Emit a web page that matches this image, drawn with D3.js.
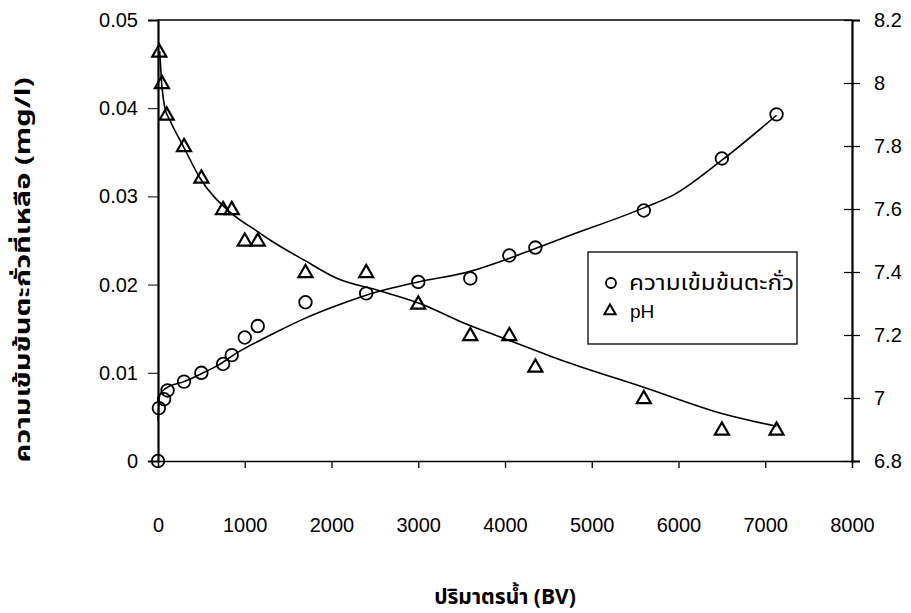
<!DOCTYPE html>
<html>
<head>
<meta charset="utf-8">
<script src="https://cdn.jsdelivr.net/npm/d3@7"></script>
<style>
  body { margin: 0; background: #fff; }
  svg { display: block; }
  .tick text { font-family: "Liberation Sans", Arial, sans-serif; font-size: 20px; fill: #000; }
  .thai { font-family: "Noto Sans Thai", "Loma", "Garuda", "Norasi", "Tlwg Typo", sans-serif; }
</style>
</head>
<body>
<svg id="chart" width="911" height="613"></svg>
<script>
// Bed volumes and measured lead concentration (mg/l)
const leadBV   = [0, 10, 70, 110, 300, 500, 750, 850, 1000, 1150, 1700, 2400, 3000, 3600, 4050, 4350, 5600, 6500, 7130];
const leadConc = [0, 0.006, 0.007, 0.008, 0.009, 0.010, 0.011, 0.012, 0.014, 0.0153, 0.018, 0.019, 0.0203, 0.0207, 0.0233, 0.0242, 0.0284, 0.0343, 0.0393];

// Bed volumes and measured pH
const phBV = [15, 45, 100, 300, 500, 750, 850, 1000, 1150, 1700, 2400, 3000, 3600, 4050, 4350, 5600, 6500, 7130];
const phVal = [8.1, 8.0, 7.9, 7.8, 7.7, 7.6, 7.6, 7.5, 7.5, 7.4, 7.4, 7.3, 7.2, 7.2, 7.1, 7.0, 6.9, 6.9];

// Smoothed trend of lead concentration
const leadTrendBV = [0, 20, 100, 300, 500, 700, 900, 1200, 1400, 1700, 2000, 2400, 3000, 3600, 4000, 4350, 4700, 5600, 5950, 6500, 7130];
const leadTrend   = [0.0045, 0.0075, 0.0083, 0.009, 0.0099, 0.0109, 0.0122, 0.0138, 0.0148, 0.0162, 0.0174, 0.0188, 0.0203, 0.0215, 0.0228, 0.0241, 0.0254, 0.0287, 0.0302, 0.0341, 0.0392];

// Smoothed trend of pH
const phTrendBV = [20, 45, 80, 140, 290, 480, 830, 1140, 1300, 1670, 2060, 2560, 3020, 3510, 3980, 4650, 5590, 6510, 7130];
const phTrend   = [8.1, 7.99, 7.92, 7.88, 7.80, 7.70, 7.59, 7.53, 7.50, 7.44, 7.38, 7.34, 7.30, 7.24, 7.19, 7.12, 7.035, 6.95, 6.91];

// Tick values
const xTicks = [0, 1000, 2000, 3000, 4000, 5000, 6000, 7000, 8000];
const leftTicks = [0, 0.01, 0.02, 0.03, 0.04, 0.05];
const rightTicks = [6.8, 7, 7.2, 7.4, 7.6, 7.8, 8, 8.2];

const legendLabels = ["ความเข้มข้นตะกั่ว", "pH"];
const xTitle = "ปริมาตรน้ำ (BV)";
const yTitle = "ความเข้มข้นตะกั่วที่เหลือ (mg/l)";

const svg = d3.select("#chart");
const L = 158, R = 852, T = 20, B = 461;

const x = d3.scaleLinear().domain([0, 8000]).range([L, R]);
const yL = d3.scaleLinear().domain([0, 0.05]).range([B, T]);
const yR = d3.scaleLinear().domain([6.8, 8.2]).range([B, T]);

// Frame: top edge
svg.append("line").attr("x1", L).attr("x2", R).attr("y1", T).attr("y2", T)
  .attr("stroke", "#000").attr("stroke-width", 1.5);

// Bottom axis
const gx = svg.append("g").attr("transform", `translate(0,${B})`)
  .call(d3.axisBottom(x).tickValues(xTicks).tickSize(7).tickPadding(50).tickFormat(d3.format("d")));
gx.select(".domain").attr("stroke-width", 1.5);
gx.selectAll(".tick line").attr("stroke-width", 1.3);
gx.selectAll(".tick").filter(d => d === 0 || d === 8000).select("line").remove();

// Left axis
const gl = svg.append("g").attr("transform", `translate(${L},0)`)
  .call(d3.axisLeft(yL).tickValues(leftTicks).tickSize(10).tickPadding(10).tickFormat(d => d === 0 ? "0" : d3.format(".2f")(d)));
gl.select(".domain").attr("stroke-width", 2.2);
gl.selectAll(".tick line").attr("stroke-width", 1);

// Right axis, ticks crossing the line
const gr = svg.append("g").attr("transform", `translate(${R},0)`)
  .call(d3.axisRight(yR).tickValues(rightTicks).tickSize(8).tickPadding(14).tickFormat(d => d3.format("~g")(d)));
gr.select(".domain").attr("stroke-width", 2.2);
gr.selectAll(".tick line").attr("x1", -8).attr("stroke-width", 1.2);

// Trend lines
const leadLine = d3.line().x((d, i) => x(leadTrendBV[i])).y(d => yL(d)).curve(d3.curveMonotoneX);
svg.append("path").attr("d", leadLine(leadTrend))
  .attr("fill", "none").attr("stroke", "#000").attr("stroke-width", 1.6);

const phLine = d3.line().x((d, i) => x(phTrendBV[i])).y(d => yR(d)).curve(d3.curveMonotoneX);
svg.append("path").attr("d", phLine(phTrend))
  .attr("fill", "none").attr("stroke", "#000").attr("stroke-width", 1.6);

// Markers
const tri = d3.symbol().type(d3.symbolTriangle).size(85);
svg.append("g").selectAll("circle").data(leadConc).join("circle")
  .attr("cx", (d, i) => x(leadBV[i])).attr("cy", d => yL(d)).attr("r", 6.3)
  .attr("fill", "none").attr("stroke", "#000").attr("stroke-width", 1.8);

svg.append("g").selectAll("path").data(phVal).join("path")
  .attr("d", tri)
  .attr("transform", (d, i) => `translate(${x(phBV[i])},${yR(d) + 1})`)
  .attr("fill", "none").attr("stroke", "#000").attr("stroke-width", 2.2);

// Legend
const lg = svg.append("g");
lg.append("rect").attr("x", 588).attr("y", 252).attr("width", 209).attr("height", 92)
  .attr("fill", "#fff").attr("stroke", "#000").attr("stroke-width", 1.3);
lg.append("circle").attr("cx", 611).attr("cy", 283).attr("r", 5)
  .attr("fill", "none").attr("stroke", "#000").attr("stroke-width", 1.8);
lg.append("path").attr("d", d3.symbol().type(d3.symbolTriangle).size(55))
  .attr("transform", "translate(610,311)")
  .attr("fill", "none").attr("stroke", "#000").attr("stroke-width", 2);
lg.append("text").attr("class", "thai").attr("x", 629).attr("y", 290)
  .attr("font-size", 21).attr("textLength", 165).attr("lengthAdjust", "spacingAndGlyphs")
  .text(legendLabels[0]);
lg.append("text").attr("x", 630).attr("y", 318)
  .attr("font-family", "Liberation Sans, Arial, sans-serif").attr("font-size", 19).text(legendLabels[1]);

// Axis titles
svg.append("text").attr("class", "thai").attr("x", 505).attr("y", 604)
  .attr("text-anchor", "middle").attr("font-size", 21).attr("font-weight", "bold").text(xTitle);

svg.append("text").attr("class", "thai")
  .attr("transform", "translate(30,270) rotate(-90)")
  .attr("text-anchor", "middle").attr("font-size", 21).attr("font-weight", "bold")
  .attr("textLength", 385).attr("lengthAdjust", "spacingAndGlyphs").text(yTitle);
</script>
</body>
</html>
